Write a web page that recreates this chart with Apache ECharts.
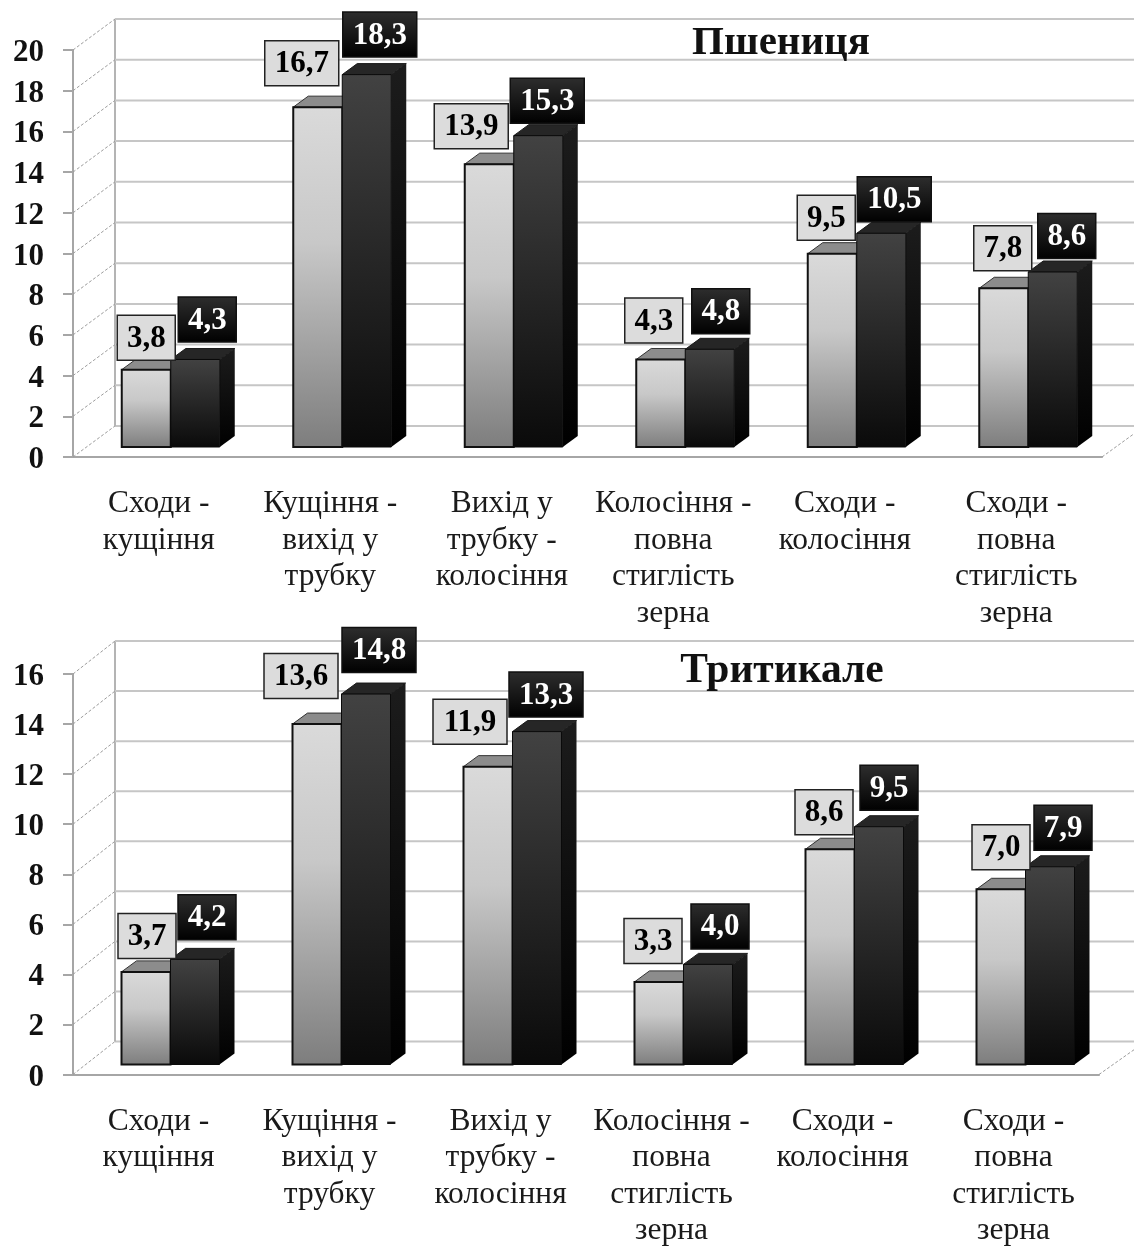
<!DOCTYPE html>
<html>
<head>
<meta charset="utf-8">
<style>html,body{margin:0;padding:0;background:#fff}#chart{width:1134px;height:1249px}</style>
<script src="https://cdn.jsdelivr.net/npm/echarts@6/dist/echarts.min.js"></script>
</head>
<body>
<div id="chart"></div>
<script>
// Growth-stage categories shared by both crops
const categories = [
  'Сходи -\nкущіння',
  'Кущіння -\nвихід у\nтрубку',
  'Вихід у\nтрубку -\nколосіння',
  'Колосіння -\nповна\nстиглість\nзерна',
  'Сходи -\nколосіння',
  'Сходи -\nповна\nстиглість\nзерна'
];

// Wheat values
const wheatLight = [3.8, 16.7, 13.9, 4.3, 9.5, 7.8];
const wheatDark = [4.3, 18.3, 15.3, 4.8, 10.5, 8.6];
const wheatTicks = [0, 2, 4, 6, 8, 10, 12, 14, 16, 18, 20];

// Triticale values
const triticaleLight = [3.7, 13.6, 11.9, 3.3, 8.6, 7.0];
const triticaleDark = [4.2, 14.8, 13.3, 4.0, 9.5, 7.9];
const triticaleTicks = [0, 2, 4, 6, 8, 10, 12, 14, 16];

// Hand placement of the value boxes, relative to the top of each bar
const wheatLightNudge = [[0, -32], [-16, -44], [-18, -38], [-7, -39], [-6, -36], [-1, -40]];
const wheatDarkNudge = [[12, -40], [13, -40], [9, -35], [11, -38], [13, -34], [14, -36]];
const triticaleLightNudge = [[1, -36], [-16, -48], [-18, -45], [-6, -41], [-6, -37], [0, -42]];
const triticaleDarkNudge = [[12, -42], [13, -44], [9, -37], [12, -38], [10, -39], [13, -39]];

const SERIF = '"Liberation Serif", "Times New Roman", serif';
const WALL_DX = 42, WALL_DY = -31;      // back wall relative to the axis plane
const FLOOR_DY = -10;                   // bars stand slightly behind the front edge
const BAR_W = 49, BAR_OFFSET = 12;      // bar width and shift of the pair inside its band
const DEPTH_X = 15, DEPTH_Y = -11;      // depth of each 3D bar

const grad = (a, b, mid) => new echarts.graphic.LinearGradient(0, 0, 0, 1,
  mid ? [{offset: 0, color: a}, {offset: 0.4, color: mid}, {offset: 1, color: b}]
      : [{offset: 0, color: a}, {offset: 1, color: b}]);

function renderWall(wallDy) {
  return function (params, api) {
    const v = api.value(0);
    const p = api.coord([0, v]);
    const band = api.size([1, 0])[0];
    const x0 = p[0] - band / 2;
    const xEnd = p[0] + band * 5.5;
    const y = p[1];
    const children = [
      {type: 'line', shape: {x1: x0 + WALL_DX, y1: y + wallDy, x2: api.getWidth(), y2: y + wallDy},
        style: {stroke: '#c6c6c6', lineWidth: 2}},
      {type: 'line', shape: {x1: x0, y1: y, x2: x0 + WALL_DX, y2: y + wallDy},
        style: {stroke: '#9c9c9c', lineWidth: 1, lineDash: [3, 2]}}
    ];
    if (v === 0) {
      const top = api.coord([0, api.value(1)])[1];
      children.push(
        {type: 'line', shape: {x1: x0 + WALL_DX, y1: y + wallDy, x2: x0 + WALL_DX, y2: top + wallDy},
          style: {stroke: '#b4b4b4', lineWidth: 2}},
        {type: 'line', shape: {x1: xEnd, y1: y, x2: api.getWidth(), y2: y + wallDy * 0.75},
          style: {stroke: '#9c9c9c', lineWidth: 1, lineDash: [3, 2]}}
      );
    }
    return {type: 'group', children};
  };
}

function renderBar(kind) {
  const dark = kind === 'dark';
  return function (params, api) {
    const top = api.coord([api.value(0), api.value(1)]);
    const base = api.coord([api.value(0), 0]);
    const x = top[0] + BAR_OFFSET + (dark ? 0 : -BAR_W);
    const yT = top[1] + FLOOR_DY, yB = base[1] + FLOOR_DY;
    const edge = dark ? '#0a0a0a' : '#111';
    return {
      type: 'group',
      children: [
        {type: 'polygon', shape: {points: [[x + BAR_W, yT], [x + BAR_W + DEPTH_X, yT + DEPTH_Y], [x + BAR_W + DEPTH_X, yB + DEPTH_Y], [x + BAR_W, yB]]},
          style: {fill: grad(dark ? '#1c1c1c' : '#666', dark ? '#000' : '#222')}},
        {type: 'polygon', shape: {points: [[x, yT], [x + DEPTH_X, yT + DEPTH_Y], [x + BAR_W + DEPTH_X, yT + DEPTH_Y], [x + BAR_W, yT]]},
          style: {fill: dark ? '#262626' : '#8c8c8c', stroke: dark ? '#1a1a1a' : '#333', lineWidth: 1}},
        {type: 'rect', shape: {x, y: yT, width: BAR_W, height: yB - yT},
          style: dark
            ? {fill: grad('#424242', '#0a0a0a'), stroke: edge, lineWidth: 1}
            : {fill: grad('#dadada', '#7d7d7d', '#c8c8c8'), stroke: edge, lineWidth: 2}}
      ]
    };
  };
}

function renderValueBox(kind) {
  const dark = kind === 'dark';
  return function (params, api) {
    const top = api.coord([api.value(0), api.value(1)]);
    const x = top[0] + BAR_OFFSET + (dark ? BAR_W / 2 : -BAR_W / 2) + api.value(2);
    const y = top[1] + FLOOR_DY + api.value(3);
    const text = api.value(1).toFixed(1).replace('.', ',');
    const w = text.length === 3 ? 58 : 74, h = 45;
    return {
      type: 'group',
      children: [
        {type: 'rect', shape: {x: x - w / 2, y: y - h / 2, width: w, height: h},
          style: dark
            ? {fill: grad('#2e2e2e', '#000'), stroke: '#111', lineWidth: 1.5}
            : {fill: '#dcdcdc', stroke: '#222', lineWidth: 1.5}},
        {type: 'text', style: {x, y: y + 1, text, align: 'center', verticalAlign: 'middle',
          font: 'bold 31px ' + SERIF, fill: dark ? '#fff' : '#000'}}
      ]
    };
  };
}

const axisColor = '#a6a6a6';

function xAxisFor(gridIndex) {
  return {
    type: 'category', gridIndex, data: categories,
    axisLine: {lineStyle: {color: axisColor, width: 2}},
    axisTick: {length: 10, lineStyle: {color: axisColor, width: 2}},
    axisLabel: {interval: 0, margin: 28.5, color: '#1a1a1a', fontFamily: SERIF, fontSize: 31.5, lineHeight: 36.5, hideOverlap: false},
    splitLine: {show: false}
  };
}

function yAxisFor(gridIndex, ticks) {
  return {
    type: 'value', gridIndex, min: 0, max: ticks[ticks.length - 1], interval: 2,
    axisLine: {show: true, lineStyle: {color: axisColor, width: 2}},
    axisTick: {show: true, length: 10, lineStyle: {color: axisColor, width: 2}},
    axisLabel: {
      margin: 29,
      formatter: '{n|{value}}',
      rich: {n: {color: '#111', fontFamily: SERIF, fontWeight: 'bold', fontSize: 31, padding: [6, 0, 0, 0]}}
    },
    splitLine: {show: false}
  };
}

function seriesFor(idx, light, dark, ticks, lightNudge, darkNudge, wallDy) {
  const top = ticks[ticks.length - 1];
  const row = (vals, nudge) => vals.map((v, i) => [i, v, nudge[i][0], nudge[i][1]]);
  const common = {type: 'custom', xAxisIndex: idx, yAxisIndex: idx, silent: true, animation: false};
  return [
    {...common, name: 'wall', z: 1, encode: {x: -1, y: 0}, data: ticks.map(t => [t, top]), renderItem: renderWall(wallDy)},
    {...common, name: 'light', z: 3, data: row(light, lightNudge), renderItem: renderBar('light')},
    {...common, name: 'dark', z: 4, data: row(dark, darkNudge), renderItem: renderBar('dark')},
    {...common, name: 'lightBox', z: 5, data: row(light, lightNudge), renderItem: renderValueBox('light')},
    {...common, name: 'darkBox', z: 5, data: row(dark, darkNudge), renderItem: renderValueBox('dark')}
  ];
}

const chart = echarts.init(document.getElementById('chart'), null, {renderer: 'canvas'});
chart.setOption({
  backgroundColor: '#ffffff',
  animation: false,
  title: [
    {text: 'Пшениця', left: 776, top: 18, textAlign: 'center',
      textStyle: {fontFamily: SERIF, fontWeight: 'bold', fontSize: 41, color: '#111'}},
    {text: 'Тритикале', left: 777, top: 645, textAlign: 'center',
      textStyle: {fontFamily: SERIF, fontWeight: 'bold', fontSize: 41.5, color: '#111'}}
  ],
  grid: [
    {left: 73, top: 50, width: 1029, height: 407},
    {left: 73, top: 674, width: 1026, height: 403}
  ],
  xAxis: [xAxisFor(0), xAxisFor(1)],
  yAxis: [yAxisFor(0, wheatTicks), yAxisFor(1, triticaleTicks)],
  series: [
    ...seriesFor(0, wheatLight, wheatDark, wheatTicks, wheatLightNudge, wheatDarkNudge, WALL_DY),
    ...seriesFor(1, triticaleLight, triticaleDark, triticaleTicks, triticaleLightNudge, triticaleDarkNudge, WALL_DY - 2)
  ]
});
</script>
</body>
</html>
